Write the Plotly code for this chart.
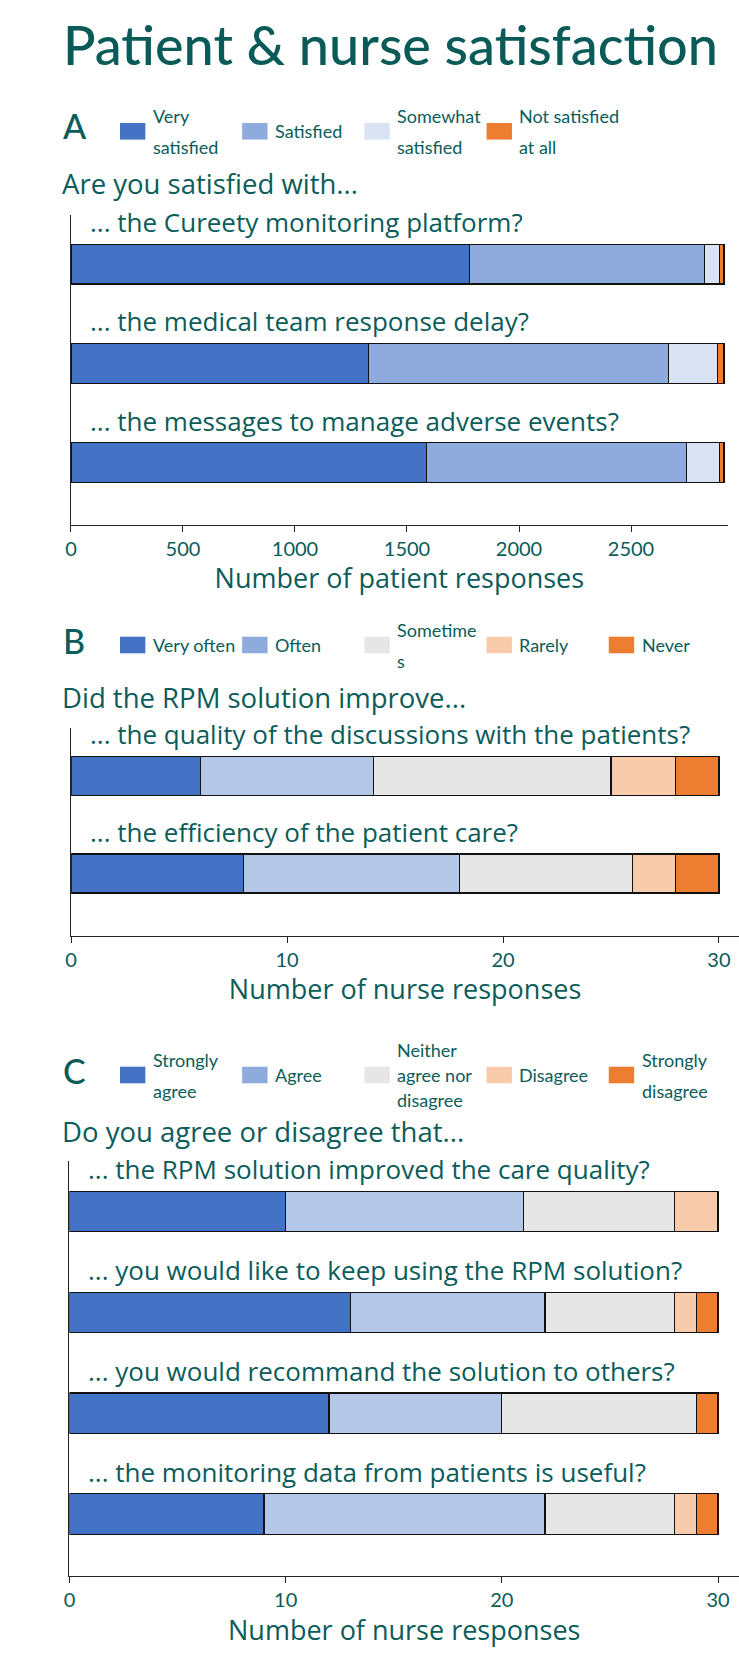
import plotly.graph_objects as go

W, H = 739, 1658
TEAL = "#0b5c5a"
LATO = "Lato, 'Open Sans', sans-serif"
OPEN = "'Open Sans', Lato, sans-serif"

# ---- panel A: patients ----
patient_questions = [
    "... the Cureety monitoring platform?",
    "... the medical team response delay?",
    "... the messages to manage adverse events?",
]
patient_levels = ["Very<br>satisfied", "Satisfied", "Somewhat<br>satisfied", "Not satisfied<br>at all"]
patient_very_satisfied = [1779, 1328, 1587]
patient_satisfied = [1048, 1341, 1159]
patient_somewhat = [67, 217, 148]
patient_not_satisfied = [21, 29, 21]

# ---- panel B: nurses, frequency ----
improve_questions = [
    "... the quality of the discussions with the patients?",
    "... the efficiency of the patient care?",
]
improve_levels = ["Very often", "Often", "Sometime<br>s", "Rarely", "Never"]
improve_very_often = [6, 8]
improve_often = [8, 10]
improve_sometimes = [11, 8]
improve_rarely = [3, 2]
improve_never = [2, 2]

# ---- panel C: nurses, agreement ----
agree_questions = [
    "... the RPM solution improved the care quality?",
    "... you would like to keep using the RPM solution?",
    "... you would recommand the solution to others?",
    "... the monitoring data from patients is useful?",
]
agree_levels = ["Strongly<br>agree", "Agree", "Neither<br>agree nor<br>disagree", "Disagree", "Strongly<br>disagree"]
agree_strongly_agree = [10, 13, 12, 9]
agree_agree = [11, 9, 8, 13]
agree_neither = [7, 6, 9, 6]
agree_disagree = [2, 1, 0, 1]
agree_strongly_disagree = [0, 1, 1, 1]

BLUE, LBLUE, PALE, GREY, PEACH, ORANGE = "#4472c4", "#8faadc", "#dae3f3", "#e7e6e6", "#f8cbad", "#ed7d31"
BAR_LBLUE = "#b4c7e7"

panels = [
    dict(letter="A", heading="Are you satisfied with...", questions=patient_questions,
         levels=patient_levels,
         series=[patient_very_satisfied, patient_satisfied, patient_somewhat, patient_not_satisfied],
         bar_colors=[BLUE, LBLUE, PALE, ORANGE], key_colors=[BLUE, LBLUE, PALE, ORANGE],
         xtitle="Number of patient responses", xr=[0, 2932], dtick=500,
         dom_x=(65.5, 727.7), dom_y=(214.5, 524.5),
         letter_y=125.5, key_y=131.3, head_y=184),
    dict(letter="B", heading="Did the RPM solution improve...", questions=improve_questions,
         levels=improve_levels,
         series=[improve_very_often, improve_often, improve_sometimes, improve_rarely, improve_never],
         bar_colors=[BLUE, BAR_LBLUE, GREY, PEACH, ORANGE], key_colors=[BLUE, LBLUE, GREY, PEACH, ORANGE],
         xtitle="Number of nurse responses", xr=[0, 30.93], dtick=10,
         dom_x=(65.7, 739), dom_y=(727.6, 935.5),
         letter_y=640, key_y=645, head_y=698),
    dict(letter="C", heading="Do you agree or disagree that...", questions=agree_questions,
         levels=agree_levels,
         series=[agree_strongly_agree, agree_agree, agree_neither, agree_disagree, agree_strongly_disagree],
         bar_colors=[BLUE, BAR_LBLUE, GREY, PEACH, ORANGE], key_colors=[BLUE, LBLUE, GREY, PEACH, ORANGE],
         xtitle="Number of nurse responses", xr=[0, 30.97], dtick=10,
         dom_x=(64, 739), dom_y=(1161, 1576),
         letter_y=1070, key_y=1075, head_y=1131),
]


def fx(p):
    return p / W


def fy(p):
    return 1 - p / H


fig = go.Figure()
annotations = []
shapes = []

for i, pan in enumerate(panels, start=1):
    sfx = str(i) if i > 1 else ""
    xa, ya = "x" + sfx, "y" + sfx
    for name, vals, col in zip(pan["levels"], pan["series"], pan["bar_colors"]):
        fig.add_trace(go.Bar(
            x=vals, y=pan["questions"], orientation="h", name=name.replace("<br>", " "),
            marker=dict(color=col, line=dict(color="#111111", width=1.2)),
            width=0.4, xaxis=xa, yaxis=ya, showlegend=False,
        ))

    fig.update_layout({
        "xaxis" + sfx: dict(
            domain=[fx(pan["dom_x"][0]), fx(pan["dom_x"][1])], anchor=ya, range=pan["xr"],
            tick0=0, dtick=pan["dtick"], showgrid=False, zeroline=False,
            showline=True, linecolor="#222222", linewidth=1,
            ticks="outside", ticklen=6, tickcolor="#222222",
            tickfont=dict(family=LATO, size=20, color=TEAL),
            title=dict(text=pan["xtitle"], font=dict(family=OPEN, size=27, color=TEAL, weight=500), standoff=6),
        ),
        "yaxis" + sfx: dict(
            domain=[fy(pan["dom_y"][1]), fy(pan["dom_y"][0])], anchor=xa,
            autorange="reversed", showticklabels=False, showgrid=False, zeroline=False,
            showline=True, linecolor="#222222", linewidth=1, ticks="",
        ),
    })

    # question labels above each bar
    for q in pan["questions"]:
        annotations.append(dict(
            text=q, x=0, xref=xa + " domain", y=q, yref=ya, xanchor="left", yanchor="middle",
            xshift=17, yshift=42, showarrow=False, font=dict(family=OPEN, size=26, color=TEAL),
        ))

    # panel letter and heading
    annotations.append(dict(
        text=pan["letter"], x=fx(55.5), y=fy(pan["letter_y"]), xref="paper", yref="paper",
        xanchor="left", yanchor="middle", showarrow=False,
        font=dict(family=LATO, size=34, color=TEAL, weight=500),
    ))
    annotations.append(dict(
        text=pan["heading"], x=fx(54), y=fy(pan["head_y"]), xref="paper", yref="paper",
        xanchor="left", yanchor="middle", showarrow=False,
        font=dict(family=OPEN, size=27.5, color=TEAL, weight=500),
    ))

    # colour key (loosely spaced lines, like the original)
    for k, (lab, col) in enumerate(zip(pan["levels"], pan["key_colors"])):
        left = 114.9 + 123.2 * k
        shapes.append(dict(
            type="rect", xref="paper", yref="paper", line=dict(width=0), fillcolor=col,
            x0=fx(left), x1=fx(left + 25.6), y0=fy(pan["key_y"] + 8.3), y1=fy(pan["key_y"] - 8.3),
        ))
        lines = lab.split("<br>")
        step = 31 if len(lines) < 3 else 25
        for j, line in enumerate(lines):
            offset = (j - (len(lines) - 1) / 2) * step
            annotations.append(dict(
                text=line, x=fx(left + 31), y=fy(pan["key_y"] + offset), xref="paper", yref="paper",
                xanchor="left", yanchor="middle", align="left", showarrow=False,
                font=dict(family=LATO, size=18, color=TEAL),
            ))

fig.update_layout(
    width=W, height=H, barmode="stack", bargap=0.6,
    margin=dict(l=0, r=0, t=0, b=0),
    paper_bgcolor="white", plot_bgcolor="white",
    title=dict(text="Patient & nurse satisfaction", x=fx(390.5), xanchor="center",
               y=fy(46), yanchor="middle", font=dict(family=LATO, size=54, color="#0a5a58", weight=500)),
    annotations=annotations, shapes=shapes, showlegend=False,
)

fig.write_html(
    "out.html",
    config={"displayModeBar": False},
    post_script="document.body.style.margin='0';document.body.style.overflow='hidden';",
)
